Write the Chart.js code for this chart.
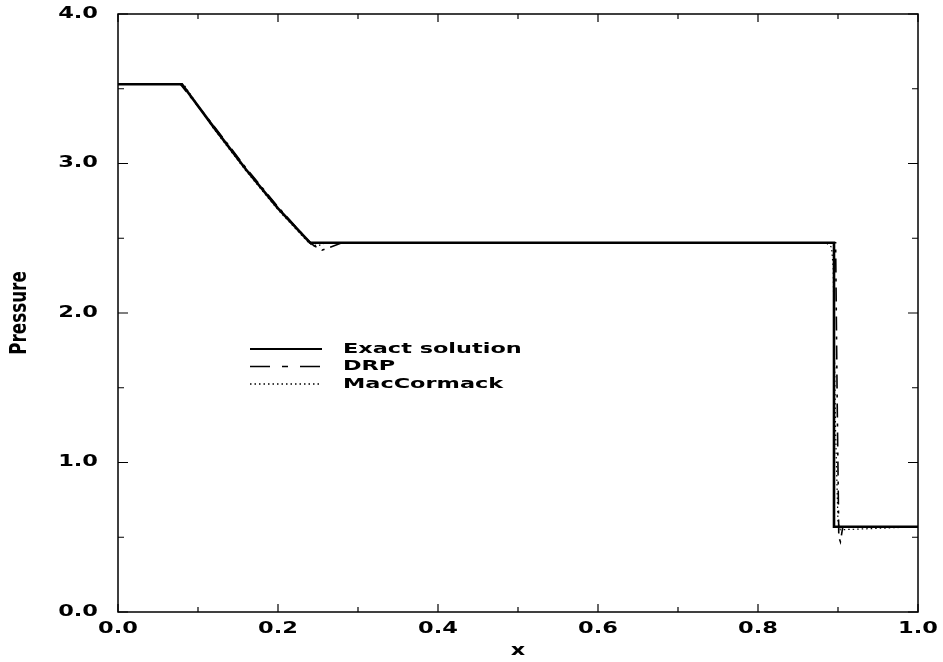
<!DOCTYPE html>
<html>
<head>
<meta charset="utf-8">
<script src="https://cdn.jsdelivr.net/npm/chart.js@4.4.1/dist/chart.umd.min.js"></script>
<style>
  body { margin: 0; background: #fff; }
  #wrap { width: 943px; height: 662px; }
</style>
</head>
<body>
<div id="wrap"><canvas id="c"></canvas></div>
<script>
// exact solution
const xExact = [0, 0.08, 0.12, 0.16, 0.20, 0.24, 0.895, 0.895, 1.0];
const pExact = [3.53, 3.53, 3.24, 2.96, 2.70, 2.47, 2.47, 0.57, 0.57];
// DRP scheme
const xDrp = [0, 0.078, 0.12, 0.16, 0.20, 0.235, 0.245, 0.255, 0.265, 0.28, 0.892, 0.897, 0.899, 0.901, 0.903, 0.906, 1.0];
const pDrp = [3.53, 3.53, 3.25, 2.97, 2.71, 2.50, 2.45, 2.42, 2.44, 2.47, 2.47, 2.47, 1.40, 0.50, 0.47, 0.57, 0.57];
// MacCormack scheme
const xMac = [0, 0.082, 0.12, 0.16, 0.20, 0.24, 0.25, 0.26, 0.885, 0.892, 0.894, 0.897, 0.9, 0.903, 1.0];
const pMac = [3.53, 3.53, 3.23, 2.95, 2.69, 2.46, 2.45, 2.47, 2.47, 2.44, 2.30, 1.20, 0.60, 0.55, 0.57];

const yTicks = [0, 1, 2, 3, 4];
const xTicks = [0, 0.2, 0.4, 0.6, 0.8, 1.0];
const legendNames = ["Exact solution", "DRP", "MacCormack"];
const xTitle = "x";
const yTitle = "Pressure";

function pts(xs, ys) {
  return xs.map((x, i) => ({x: x, y: ys[i]}));
}

const lineStyles = [
  {width: 2.6, dash: []},
  {width: 1.6, dash: [14, 6, 3, 6]},
  {width: 1.2, dash: [1.5, 3]}
];
const legendDash = [[], [20, 12, 6, 12], [1.5, 3]];

// wide bold text, like the old plotting fonts
function wideText(ctx, text, x, y, size, stretch, align) {
  ctx.save();
  ctx.font = "bold " + size + "px 'DejaVu Sans', sans-serif";
  ctx.textBaseline = "middle";
  ctx.textAlign = "left";
  const w = ctx.measureText(text).width * stretch;
  let x0 = x;
  if (align === "center") x0 = x - w / 2;
  if (align === "right") x0 = x - w;
  ctx.translate(x0, y);
  ctx.scale(stretch, 1);
  ctx.fillText(text, 0, 0);
  ctx.restore();
}

const framePlugin = {
  id: "frame",
  afterDraw(chart) {
    const ctx = chart.ctx;
    const a = chart.chartArea;
    const xs = chart.scales.x, ys = chart.scales.y;
    ctx.save();
    ctx.strokeStyle = "#000";
    ctx.fillStyle = "#000";
    ctx.lineWidth = 1.5;
    ctx.strokeRect(a.left, a.top, a.right - a.left, a.bottom - a.top);
    ctx.lineWidth = 1.2;
    for (let v = 0; v <= 1.0001; v += 0.1) {
      const px = xs.getPixelForValue(v);
      const len = Math.round(v * 10) % 2 === 0 ? 8 : 5;
      ctx.beginPath();
      ctx.moveTo(px, a.bottom); ctx.lineTo(px, a.bottom - len);
      ctx.moveTo(px, a.top); ctx.lineTo(px, a.top + len);
      ctx.stroke();
    }
    for (let v = 0; v <= 4.0001; v += 0.5) {
      const py = ys.getPixelForValue(v);
      const len = Math.round(v * 2) % 2 === 0 ? 10 : 6;
      ctx.beginPath();
      ctx.moveTo(a.left, py); ctx.lineTo(a.left + len, py);
      ctx.moveTo(a.right, py); ctx.lineTo(a.right - len, py);
      ctx.stroke();
    }
    // tick labels
    xTicks.forEach(v => wideText(ctx, v.toFixed(1), xs.getPixelForValue(v), a.bottom + 17, 15, 1.5, "center"));
    yTicks.forEach(v => wideText(ctx, v.toFixed(1), a.left - 20, ys.getPixelForValue(v), 15, 1.5, "right"));
    // axis titles
    wideText(ctx, xTitle, (a.left + a.right) / 2, a.bottom + 39, 16, 1.4, "center");
    ctx.save();
    ctx.translate(20, (a.top + a.bottom) / 2);
    ctx.rotate(-Math.PI / 2);
    ctx.scale(0.73, 1);
    ctx.font = "bold 23px 'DejaVu Sans', sans-serif";
    ctx.textAlign = "center";
    ctx.textBaseline = "middle";
    ctx.fillText(yTitle, 0, 0);
    ctx.restore();
    // legend
    const lx = a.left + 132, ly = a.top + 335;
    legendNames.forEach((name, i) => {
      const y = ly + i * 17.5;
      ctx.lineWidth = i === 0 ? 1.8 : 1.5;
      ctx.setLineDash(legendDash[i]);
      ctx.beginPath();
      ctx.moveTo(lx, y); ctx.lineTo(lx + 72, y);
      ctx.stroke();
      ctx.setLineDash([]);
      wideText(ctx, name, lx + 93, y, 14, 1.6, "left");
    });
    ctx.restore();
  }
};

new Chart(document.getElementById("c"), {
  type: "line",
  data: {
    datasets: [
      {label: legendNames[0], data: pts(xExact, pExact)},
      {label: legendNames[1], data: pts(xDrp, pDrp)},
      {label: legendNames[2], data: pts(xMac, pMac)}
    ].map((d, i) => Object.assign(d, {
      borderColor: "#000",
      borderWidth: lineStyles[i].width,
      borderDash: lineStyles[i].dash,
      pointRadius: 0,
      fill: false,
      tension: 0
    }))
  },
  options: {
    responsive: true,
    maintainAspectRatio: false,
    animation: false,
    layout: {padding: {top: 14, right: 25, left: 0, bottom: 0}},
    plugins: {legend: {display: false}, tooltip: {enabled: false}},
    scales: {
      x: {
        type: "linear", min: 0, max: 1,
        grid: {display: false, drawTicks: false},
        border: {display: false},
        afterBuildTicks(s) { s.ticks = xTicks.map(v => ({value: v})); },
        afterFit(s) { s.height = 50; },
        ticks: {display: false}
      },
      y: {
        type: "linear", min: 0, max: 4,
        grid: {display: false, drawTicks: false},
        border: {display: false},
        afterBuildTicks(s) { s.ticks = yTicks.map(v => ({value: v})); },
        afterFit(s) { s.width = 118; },
        ticks: {display: false}
      }
    }
  },
  plugins: [framePlugin]
});
</script>
</body>
</html>
